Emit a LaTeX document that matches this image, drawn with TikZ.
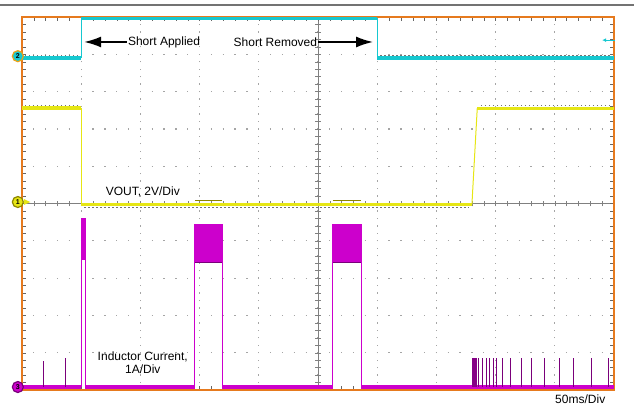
\documentclass[tikz,border=0pt]{standalone}
\usepackage{fontspec}
\setmainfont{Liberation Sans}
\usetikzlibrary{arrows.meta}
\definecolor{frameor}{RGB}{230,122,30}
\definecolor{chcyan}{RGB}{22,200,208}
\definecolor{chyel}{RGB}{230,230,20}
\definecolor{chmag}{RGB}{204,0,204}
\definecolor{gridg}{RGB}{165,165,165}
\begin{document}
\begin{tikzpicture}[x=59.2pt,y=37.3pt,
  lbl/.style={font=\fontsize{12}{13}\selectfont, inner sep=1pt},
  trc/.style={line width=3.6pt},
  noise/.style={black!55, line width=0.7pt, dash pattern=on 1.5pt off 2.5pt},
  mk/.style={circle, draw, line width=1.2pt, inner sep=0pt, minimum size=11pt, font=\fontsize{7}{7}\selectfont\bfseries},
  sharr/.style={-{Latex[length=17pt,width=11pt]}, line width=1.7pt}]
\useasboundingbox (-0.3716,-0.429) rectangle (10.338,10.456);
\draw [black!55, line width=1.6pt] (-0.3716,10.322) -- (10.338,10.322);

\draw [gridg, line width=1.2pt, dash pattern=on 1.3pt off 10.54pt, dash phase=0.65pt] (0,0) grid[xstep=20,ystep=1] (10,10);
\draw [gridg, line width=1.2pt, dash pattern=on 1.3pt off 6.16pt, dash phase=0.65pt] (0,0) grid[xstep=1,ystep=20] (10,10);

\draw [gray, thin] (0,5) -- (10,5);
\draw [gray, thin] (5,0) -- (5,10);
\foreach \t in {1,...,49} {
  \draw [gray] (\t/5,4.92) -- (\t/5,5.08);
  \draw [gray] (4.95,\t/5) -- (5.05,\t/5);
  \draw [black!60] (\t/5,0) -- (\t/5,0.11);
  \draw [black!60] (\t/5,10) -- (\t/5,9.89);
  \draw [black!60] (0,\t/5) -- (0.07,\t/5);
  \draw [black!60] (10,\t/5) -- (9.93,\t/5);
}
\draw [frameor, line width=2.4pt] (0,0) rectangle (10,10);

\draw [chcyan, line width=0.8pt] (1,8.9) -- (1,9.96);
\draw [chcyan, line width=0.8pt] (6,9.96) -- (6,8.9);
\draw [chcyan, trc] (0,8.9) -- (1,8.9);
\draw [chcyan, line width=3pt] (1,9.96) -- (6,9.96);
\draw [chcyan, trc] (6,8.9) -- (10,8.9);
\draw [noise] (0.05,8.98) -- (0.98,8.98);
\draw [noise] (6.05,8.98) -- (9.95,8.98);

\draw [chyel, line width=0.8pt] (1,7.56) -- (1,4.97);
\draw [chyel, line width=1pt] (7.6,4.97) -- (7.69,7.55);
\draw [chyel, trc] (0,7.56) -- (1,7.56);
\draw [chyel, trc] (1,4.97) -- (7.6,4.97);
\draw [chyel, trc] (7.69,7.55) -- (10,7.55);
\draw [noise] (0.05,7.64) -- (0.98,7.64);
\draw [noise] (7.75,7.63) -- (9.95,7.63);
\draw [noise] (1.05,4.9) -- (7.55,4.9);
\draw [olive, line width=0.8pt] (2.92,5.09) -- (3.38,5.09);
\draw [olive, line width=0.8pt] (5.25,5.09) -- (5.73,5.09);

\draw [chmag, trc] (0,0.08) -- (1,0.08);
\draw [chmag, trc] (1.07,0.08) -- (2.92,0.08);
\draw [chmag, trc] (3.38,0.08) -- (5.25,0.08);
\draw [chmag, trc] (5.73,0.08) -- (10,0.08);
\draw [chmag, line width=0.8pt] (1.0,0.08) -- (1.0,4.61) -- (1.064,4.61) -- (1.064,0.08);
\fill [chmag] (1.0,3.49) rectangle (1.064,4.61);
\draw [chmag, line width=0.8pt] (2.92,0.08) -- (2.92,4.45) -- (3.38,4.45) -- (3.38,0.08);
\fill [chmag] (2.92,3.43) rectangle (3.38,4.45);
\draw [chmag!60!black, line width=0.8pt] (2.92,3.43) -- (3.38,3.43);
\draw [chmag, line width=0.8pt] (5.25,0.08) -- (5.25,4.45) -- (5.73,4.45) -- (5.73,0.08);
\fill [chmag] (5.25,3.43) rectangle (5.73,4.45);
\draw [chmag!60!black, line width=0.8pt] (5.25,3.43) -- (5.73,3.43);
\foreach \s/\h in {0.355/0.78, 0.73/0.86}
  \draw [chmag!60!black, line width=0.6pt] (\s,0.08) -- (\s,\h);
\fill [chmag!65!black] (7.60,0.08) rectangle (7.69,0.86);
\foreach \s in {7.70,7.77,7.84,7.89,7.96,8.01,8.11,8.24,8.43,8.61,8.83,9.07,9.32,9.61,9.90}
  \draw [chmag!60!black, line width=0.6pt] (\s,0.08) -- (\s,0.85);

\node [mk, fill=chcyan, draw=frameor!70!yellow] (ch2) at (-0.07,8.95) {2};
\node [mk, fill=chyel, draw=olive] (ch1) at (-0.07,5.04) {1};
\node [mk, fill=chmag, draw=chmag!60!black] (ch3) at (-0.07,0.08) {3};
\fill [chyel] (0.03,5.12) -- (0.14,5.04) -- (0.03,4.96) -- cycle;
\coordinate (c2from) at (10.02,9.38);
\coordinate (c2to) at (9.80,9.38);
\draw [chcyan, line width=1pt, -{Latex[length=4pt,width=4pt]}] (c2from) -- (c2to);

\node [lbl] (sa) at (2.40,9.33) {Short Applied};
\coordinate (saend) at (1.05,9.33);
\draw [sharr] (sa.west) -- (saend);
\node [lbl] (sr) at (4.28,9.33) {Short Removed};
\coordinate (srend) at (5.93,9.33);
\draw [sharr] (sr.east) -- (srend);
\node [lbl] (vout) at (2.04,5.31) {VOUT, 2V/Div};
\node [lbl, align=center] (il) at (2.04,0.735) {Inductor Current,\\1A/Div};
\node [lbl] (tdiv) at (9.43,-0.25) {50ms/Div};
\end{tikzpicture}
\end{document}
